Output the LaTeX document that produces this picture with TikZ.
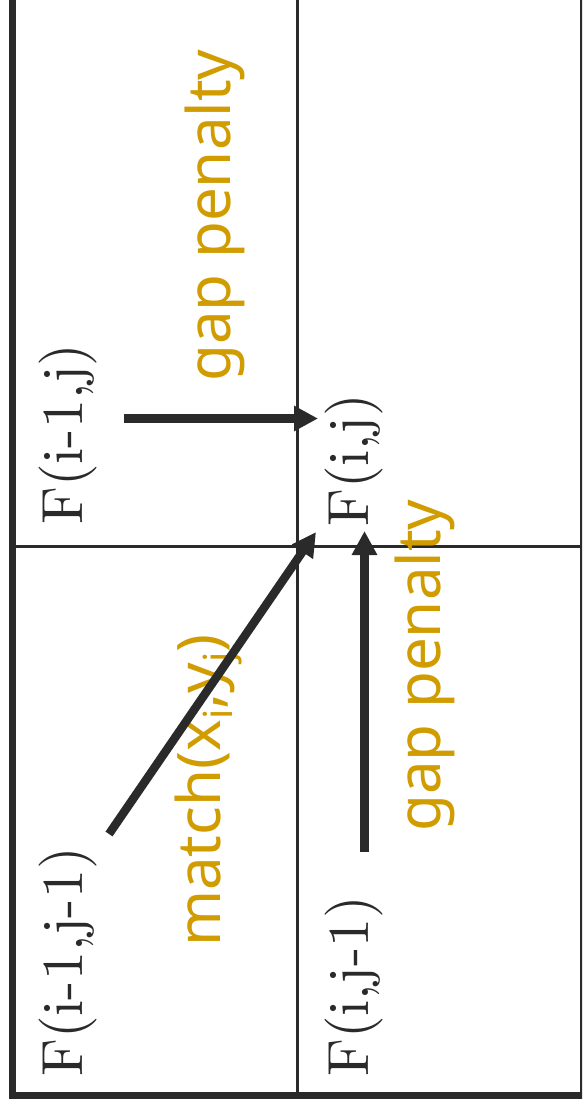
\documentclass[tikz,border=0pt]{standalone}
\usepackage{fontspec}
\newfontfamily\goldfont{Noto Sans}
\newfontfamily\tenrm[Extension=.otf]{lmroman10-regular}
\usetikzlibrary{arrows.meta}
\definecolor{ink}{HTML}{2A2A2A}
\definecolor{gold}{HTML}{D09C00}
\newcommand\lowsub[1]{\raisebox{-0.2em}{\fontsize{40}{40}\selectfont #1}}
\begin{document}
\begin{tikzpicture}[x=1pt,y=-1pt,
  gridline/.style={ink, line width=3pt},
  outerframe/.style={ink, line width=7pt},
  flowarrow/.style={ink, line width=8.5pt, -{Triangle[length=24pt,width=24pt]}},
  fval/.style={rotate=90, anchor=base west, inner sep=0pt, text=ink, font=\tenrm\fontsize{58}{58}\selectfont},
  goldtext/.style={rotate=90, anchor=base west, inner sep=0pt, text=gold, font=\goldfont\fontsize{60}{60}\selectfont}]
\useasboundingbox (0,0) rectangle (582,1110);
\clip (0,0) rectangle (582,1110);
\fill[white] (0,0) rectangle (582,1110);
\draw[gridline] (297.5,0) -- (297.5,1096);
\draw[gridline] (12,546) -- (582,546);
\draw[outerframe] (12.5,-10) -- (12.5,1095.5) -- (583.5,1095.5) -- (583.5,-10);

\node[fval] (fim1j) at (82,525) {F(i-1,j)};
\node[fval] (fij) at (368,527) {F(i,j)};
\node[fval] (fim1jm1) at (82,1077) {F(i-1,j-1)};
\node[fval] (fijm1) at (368,1077) {F(i,j-1)};

\node[goldtext] (gap1) at (230,382) {gap penalty};
\node[goldtext] (gap2) at (440,832) {gap penalty};
\node[goldtext] (match) at (220,947) {match(x\lowsub{i},y\lowsub{j})};

\coordinate (a1s) at (124,418.5);
\coordinate (a1e) at (318,418.5);
\coordinate (a2s) at (109,834);
\coordinate (a2e) at (316,532);
\coordinate (a3s) at (364.5,852);
\coordinate (a3e) at (364.5,531);
\draw[flowarrow] (a1s) -- (a1e);
\draw[flowarrow] (a2s) -- (a2e);
\draw[flowarrow] (a3s) -- (a3e);
\end{tikzpicture}
\end{document}
